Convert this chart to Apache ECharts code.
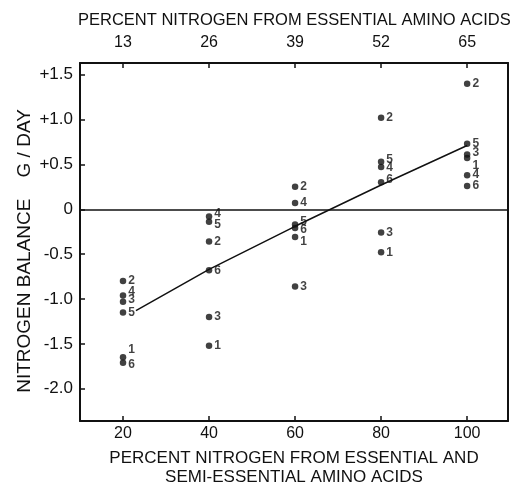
<!DOCTYPE html>
<html>
<head>
<meta charset="utf-8">
<script src="https://cdn.jsdelivr.net/npm/echarts@6/dist/echarts.min.js"></script>
<style>
  html, body { margin: 0; padding: 0; background: #fff; }
  #chart { width: 523px; height: 487px; }
</style>
</head>
<body>
<div id="chart"></div>
<script>
// percent N from essential + semi-essential amino acids (bottom axis)
const levels = [20, 40, 60, 80, 100]
// matching percent N from essential amino acids only (top axis)
const topLabels = ['13', '26', '39', '52', '65']
const yTicks = [-2.0, -1.5, -1.0, -0.5, 0, 0.5, 1.0, 1.5]

// nitrogen balance g/day for each subject at each level
const subjects = ['1', '2', '3', '4', '5', '6']
const subj1 = [-1.65, -1.52, -0.31, -0.48, 0.57]
const subj2 = [-0.80, -0.36, 0.25, 1.02, 1.40]
const subj3 = [-1.03, -1.20, -0.86, -0.26, 0.61]
const subj4 = [-0.96, -0.08, 0.07, 0.47, 0.38]
const subj5 = [-1.15, -0.14, -0.17, 0.53, 0.73]
const subj6 = [-1.71, -0.68, -0.21, 0.30, 0.26]
const balances = [subj1, subj2, subj3, subj4, subj5, subj6]

// trend line drawn through the group averages
const trendX = [23, 40, 60, 80, 100]
const trendY = [-1.13, -0.67, -0.19, 0.27, 0.71]

const ink = '#111'
const font = 'Liberation Sans'

// small vertical nudges (px) so crowded subject numbers don't sit on each other
const labelNudge = {
  '20-4': -4, '20-3': -2, '20-1': -8, '20-6': 2,
  '40-4': -3, '40-5': 3,
  '60-5': -3, '60-6': 2, '60-1': 5,
  '80-5': -2, '80-4': 1, '80-6': -3,
  '100-3': -2, '100-1': 8,
}

const points = []
balances.forEach((vals, s) => {
  vals.forEach((v, i) => {
    const dy = labelNudge[levels[i] + '-' + subjects[s]] || 0
    points.push({ name: subjects[s], value: [levels[i], v], label: { offset: [0, dy] } })
  })
})

const chart = echarts.init(document.getElementById('chart'))

chart.setOption({
  backgroundColor: '#fff',
  animation: false,
  title: {
    text: 'PERCENT NITROGEN FROM ESSENTIAL AMINO ACIDS',
    left: 73,
    top: 7,
    textStyle: { color: ink, fontFamily: font, fontSize: 16.5, fontWeight: 'normal' },
  },
  grid: { left: 80, right: 15, top: 63, bottom: 66, outerBoundsMode: 'none' },
  xAxis: [
    {
      type: 'value',
      position: 'bottom',
      min: 10,
      max: 109.5,
      splitLine: { show: false },
      axisLine: { onZero: false, lineStyle: { color: ink, width: 2 } },
      axisTick: { inside: true, length: 5, customValues: levels, lineStyle: { color: ink, width: 1.5 } },
      axisLabel: {
        customValues: levels,
        color: ink,
        fontFamily: font,
        fontSize: 16,
        margin: 5,
      },
      name: 'PERCENT NITROGEN FROM ESSENTIAL AND\nSEMI-ESSENTIAL AMINO ACIDS',
      nameLocation: 'middle',
      nameGap: 28,
      nameTextStyle: { color: ink, fontFamily: font, fontSize: 17, lineHeight: 19 },
    },
    {
      type: 'value',
      position: 'top',
      min: 10,
      max: 109.5,
      splitLine: { show: false },
      axisLine: { onZero: false, lineStyle: { color: ink, width: 2 } },
      axisTick: { inside: true, length: 5, customValues: levels, lineStyle: { color: ink, width: 1.5 } },
      axisLabel: {
        customValues: levels,
        color: ink,
        fontFamily: font,
        fontSize: 16,
        margin: 12,
        formatter: (v) => topLabels[levels.indexOf(v)],
      },
    },
  ],
  yAxis: [
    {
      type: 'value',
      min: -2.36,
      max: 1.63,
      splitLine: { show: false },
      axisLine: { onZero: false, lineStyle: { color: ink, width: 2 } },
      axisTick: { inside: true, length: 5, customValues: yTicks, lineStyle: { color: ink, width: 1.5 } },
      axisLabel: {
        customValues: yTicks,
        color: ink,
        fontFamily: font,
        fontSize: 17,
        margin: 7,
        formatter: (v) => (v === 0 ? '0' : (v > 0 ? '+' : '') + v.toFixed(1)),
      },
      name: 'NITROGEN BALANCE    G / DAY',
      nameLocation: 'middle',
      nameGap: 46,
      nameMoveOverlap: false,
      nameTextStyle: { color: ink, fontFamily: font, fontSize: 19, padding: [0, 18, 0, 0] },
    },
    {
      type: 'value',
      position: 'right',
      min: -2.36,
      max: 1.63,
      splitLine: { show: false },
      axisLine: { show: true, onZero: false, lineStyle: { color: ink, width: 2 } },
      axisTick: { show: false },
      axisLabel: { show: false },
    },
  ],
  series: [
    {
      type: 'line',
      data: trendX.map((x, i) => [x, trendY[i]]),
      symbol: 'none',
      lineStyle: { color: ink, width: 1.5 },
      z: 1,
      markLine: {
        silent: true,
        symbol: 'none',
        label: { show: false },
        lineStyle: { color: ink, width: 1.5, type: 'solid' },
        data: [{ yAxis: 0 }],
      },
    },
    {
      type: 'scatter',
      data: points,
      symbolSize: 6.5,
      itemStyle: { color: ink },
      label: {
        show: true,
        position: 'right',
        distance: 2,
        formatter: '{b}',
        color: ink,
        fontFamily: font,
        fontSize: 12,
        fontWeight: 'bold',
      },
      z: 2,
    },
  ],
})
</script>
</body>
</html>
